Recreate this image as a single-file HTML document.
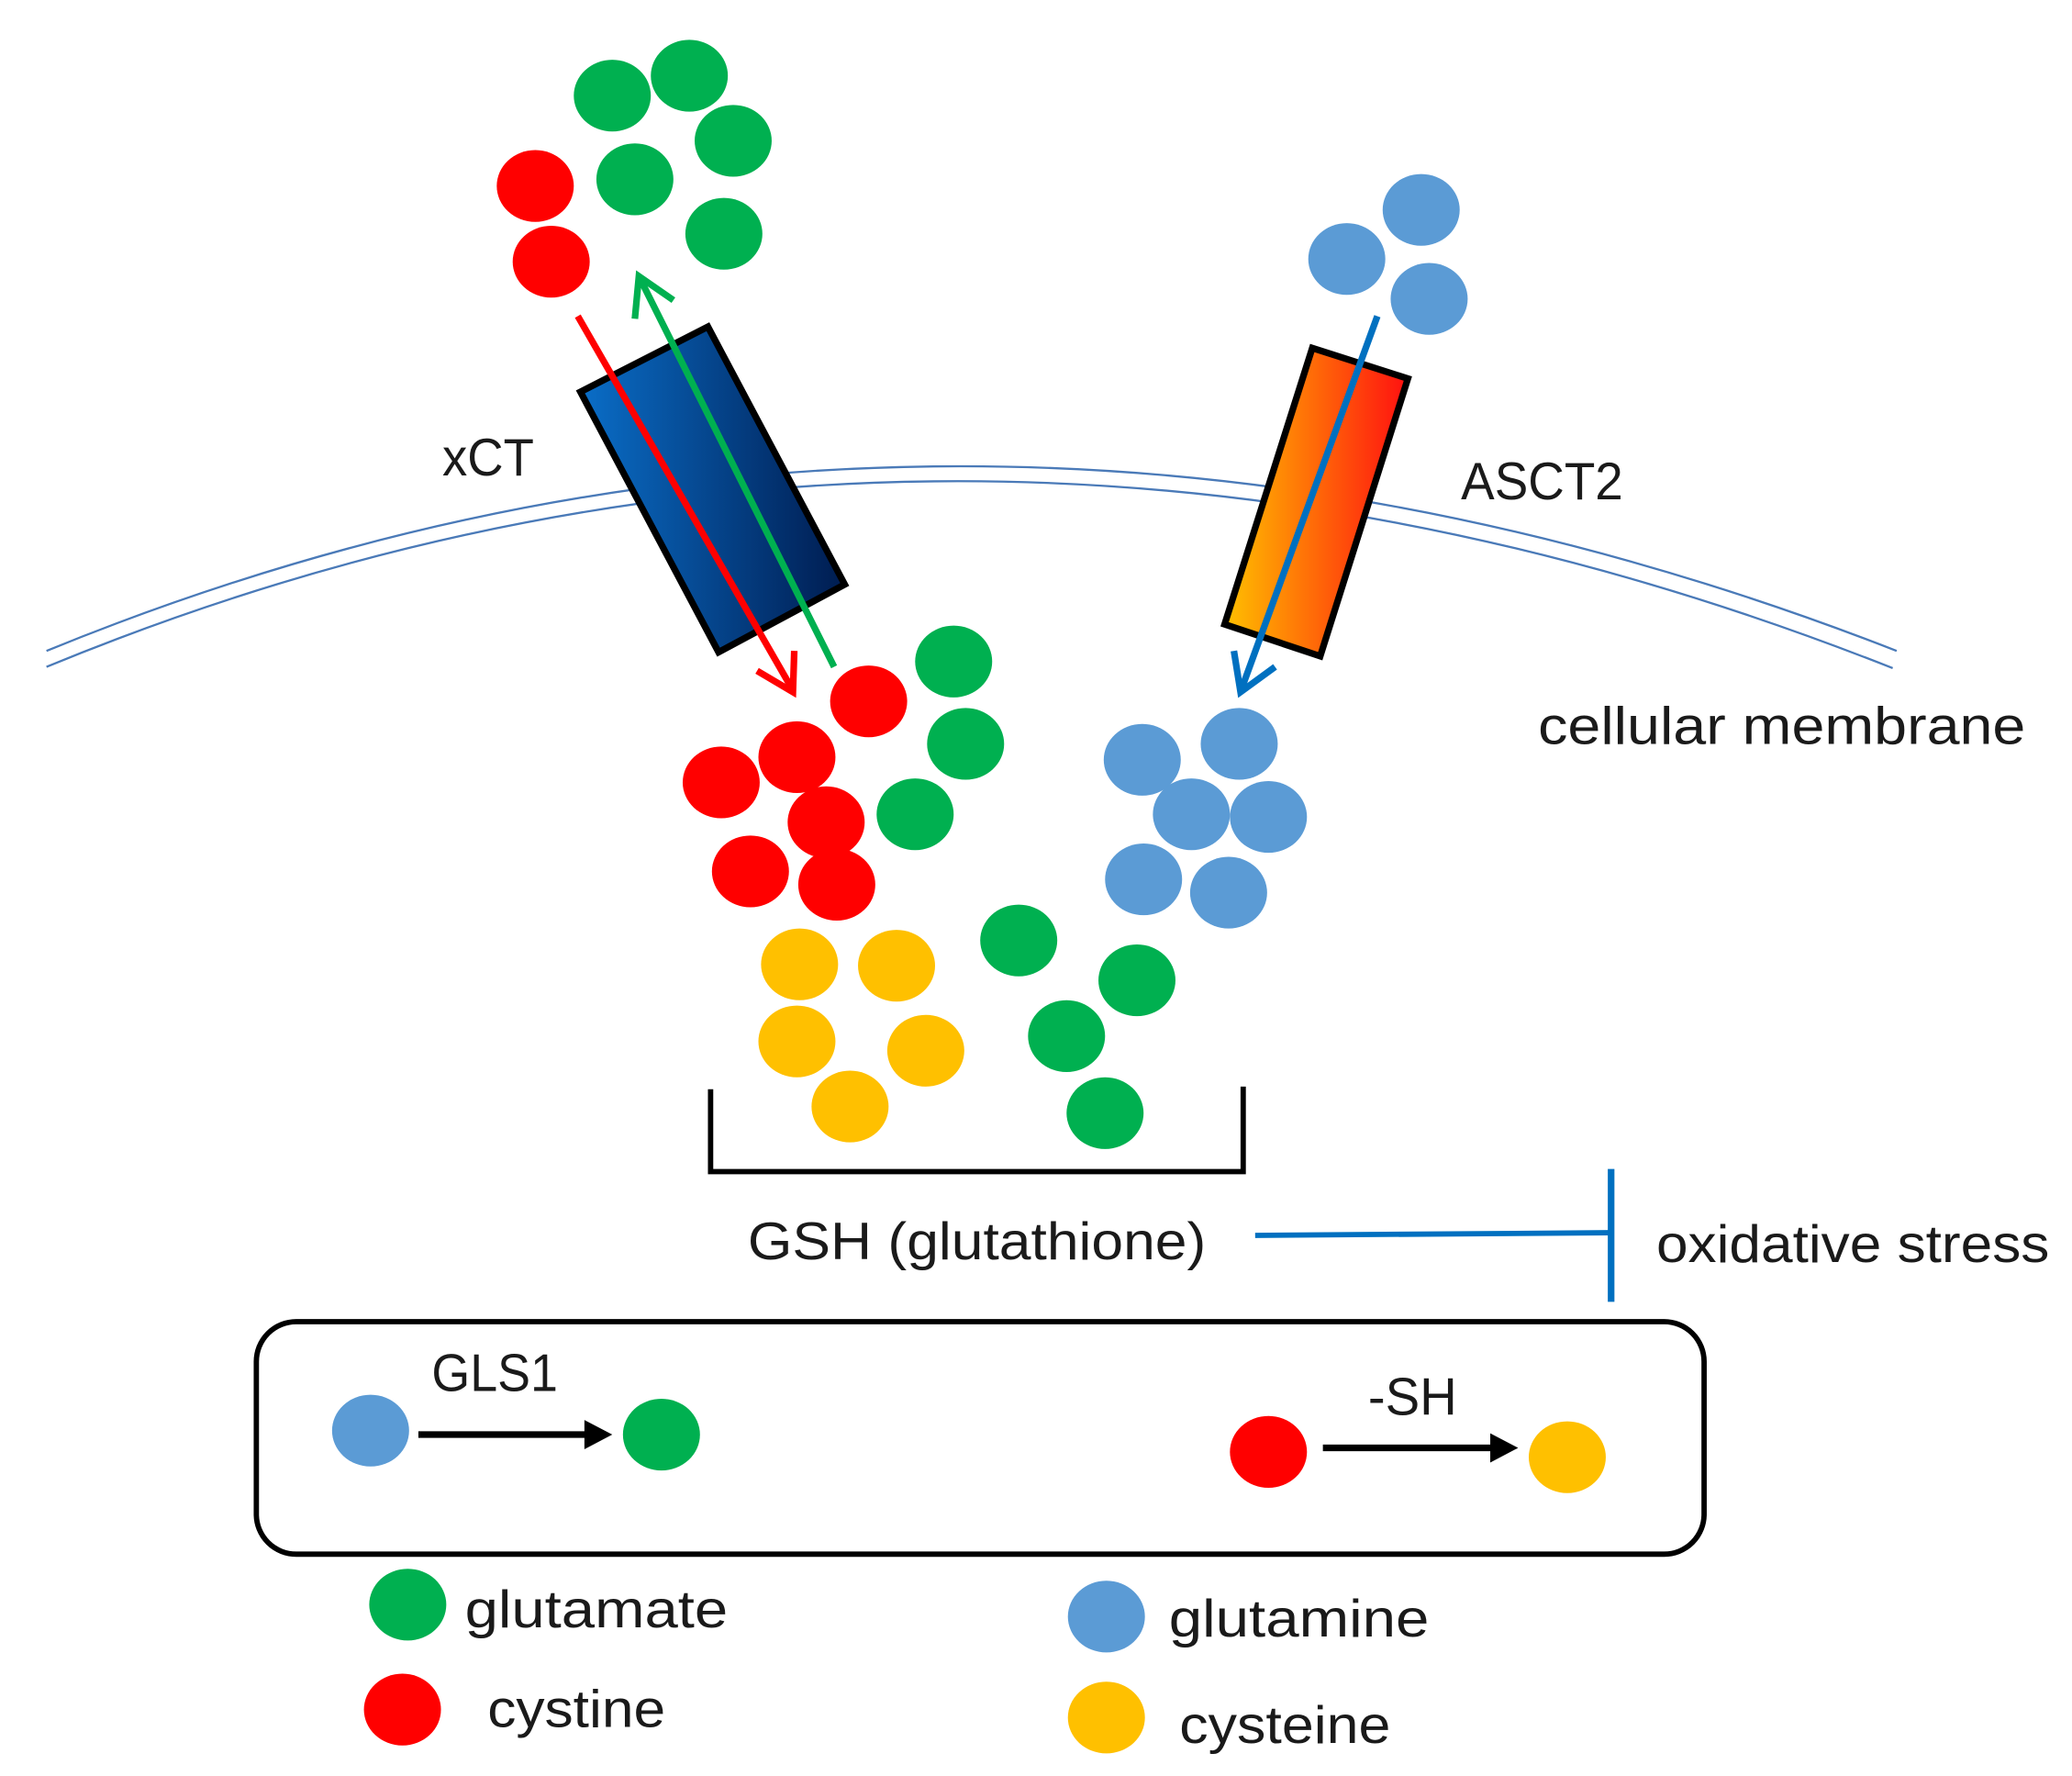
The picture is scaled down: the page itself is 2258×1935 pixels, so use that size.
<!DOCTYPE html>
<html><head><style>html,body{margin:0;padding:0;background:#fff}svg{display:block}</style></head>
<body>
<svg width="2258" height="1935" viewBox="0 0 1560 1337" preserveAspectRatio="none" xmlns="http://www.w3.org/2000/svg" font-family="Liberation Sans, sans-serif" font-size="40">
<defs>
<linearGradient id="gb" x1="0" y1="0" x2="1" y2="0"><stop offset="0" stop-color="#0a6ec8"/><stop offset="1" stop-color="#001c50"/></linearGradient>
<linearGradient id="go" x1="0" y1="0" x2="1" y2="0"><stop offset="0" stop-color="#ffc000"/><stop offset="1" stop-color="#ff1010"/></linearGradient>
</defs>
<path d="M35,490 Q715,212 1428,490" fill="none" stroke="#4a7ab8" stroke-width="1.6"/>
<path d="M35,502 Q715,222 1425,503" fill="none" stroke="#4a7ab8" stroke-width="1.6"/>
<polygon points="437,295 533,246 636,440 541,491" fill="url(#gb)" stroke="#000" stroke-width="5"/>
<polygon points="988,262 1060,285 994,494 922,470" fill="url(#go)" stroke="#000" stroke-width="5"/>
<g stroke-width="5" fill="none">
<line x1="435" y1="238" x2="596" y2="518" stroke="#ff0000"/><polyline points="570,505 597,521 598,490" stroke="#ff0000"/>
<line x1="628" y1="502" x2="482" y2="210" stroke="#00b050"/><polyline points="478,240 481,208 507,226" stroke="#00b050"/>
<line x1="1037" y1="238" x2="935" y2="518" stroke="#0070c0"/><polyline points="929,490 934,521 960,502" stroke="#0070c0"/>
</g>
<g fill="#00b050">
<ellipse cx="461" cy="72" rx="29" ry="27"/><ellipse cx="519" cy="57" rx="29" ry="27"/><ellipse cx="552" cy="106" rx="29" ry="27"/><ellipse cx="478" cy="135" rx="29" ry="27"/><ellipse cx="545" cy="176" rx="29" ry="27"/>
<ellipse cx="718" cy="498" rx="29" ry="27"/><ellipse cx="727" cy="560" rx="29" ry="27"/><ellipse cx="689" cy="613" rx="29" ry="27"/>
<ellipse cx="767" cy="708" rx="29" ry="27"/><ellipse cx="856" cy="738" rx="29" ry="27"/><ellipse cx="803" cy="780" rx="29" ry="27"/><ellipse cx="832" cy="838" rx="29" ry="27"/>
<ellipse cx="498" cy="1080" rx="29" ry="27"/><ellipse cx="307" cy="1208" rx="29" ry="27"/>
</g>
<g fill="#ff0000">
<ellipse cx="403" cy="140" rx="29" ry="27"/><ellipse cx="415" cy="197" rx="29" ry="27"/>
<ellipse cx="654" cy="528" rx="29" ry="27"/><ellipse cx="600" cy="570" rx="29" ry="27"/><ellipse cx="543" cy="589" rx="29" ry="27"/><ellipse cx="622" cy="619" rx="29" ry="27"/><ellipse cx="565" cy="656" rx="29" ry="27"/><ellipse cx="630" cy="666" rx="29" ry="27"/>
<ellipse cx="955" cy="1093" rx="29" ry="27"/><ellipse cx="303" cy="1287" rx="29" ry="27"/>
</g>
<g fill="#5b9bd5">
<ellipse cx="1070" cy="158" rx="29" ry="27"/><ellipse cx="1014" cy="195" rx="29" ry="27"/><ellipse cx="1076" cy="225" rx="29" ry="27"/>
<ellipse cx="860" cy="572" rx="29" ry="27"/><ellipse cx="933" cy="560" rx="29" ry="27"/><ellipse cx="897" cy="613" rx="29" ry="27"/><ellipse cx="955" cy="615" rx="29" ry="27"/><ellipse cx="861" cy="662" rx="29" ry="27"/><ellipse cx="925" cy="672" rx="29" ry="27"/>
<ellipse cx="279" cy="1077" rx="29" ry="27"/><ellipse cx="833" cy="1217" rx="29" ry="27"/>
</g>
<g fill="#ffc000">
<ellipse cx="602" cy="726" rx="29" ry="27"/><ellipse cx="675" cy="727" rx="29" ry="27"/><ellipse cx="600" cy="784" rx="29" ry="27"/><ellipse cx="697" cy="791" rx="29" ry="27"/><ellipse cx="640" cy="833" rx="29" ry="27"/>
<ellipse cx="1180" cy="1097" rx="29" ry="27"/><ellipse cx="833" cy="1293" rx="29" ry="27"/>
</g>
<polyline points="535,820 535,882 936,882 936,818" fill="none" stroke="#000" stroke-width="4"/>
<line x1="945" y1="930" x2="1213" y2="928" stroke="#0070c0" stroke-width="4"/>
<line x1="1213" y1="880" x2="1213" y2="980" stroke="#0070c0" stroke-width="5"/>
<rect x="193" y="995" width="1090" height="175" rx="30" fill="none" stroke="#000" stroke-width="4"/>
<line x1="315" y1="1080" x2="442" y2="1080" stroke="#000" stroke-width="5"/><polygon points="440,1069 461,1080 440,1091" fill="#000"/>
<line x1="996" y1="1090" x2="1124" y2="1090" stroke="#000" stroke-width="5"/><polygon points="1122,1079 1143,1090 1122,1101" fill="#000"/>
<g fill="#1a1a1a" lengthAdjust="spacingAndGlyphs">
<text x="333" y="358" textLength="69" lengthAdjust="spacingAndGlyphs">xCT</text>
<text x="1100" y="376" textLength="122" lengthAdjust="spacingAndGlyphs">ASCT2</text>
<text x="1158" y="560" textLength="367" lengthAdjust="spacingAndGlyphs">cellular membrane</text>
<text x="563" y="948" textLength="345" lengthAdjust="spacingAndGlyphs">GSH (glutathione)</text>
<text x="1247" y="950" textLength="296" lengthAdjust="spacingAndGlyphs">oxidative stress</text>
<text x="325" y="1047" textLength="95" lengthAdjust="spacingAndGlyphs">GLS1</text>
<text x="1030" y="1065" textLength="67" lengthAdjust="spacingAndGlyphs">-SH</text>
<text x="350" y="1225" textLength="198" lengthAdjust="spacingAndGlyphs">glutamate</text>
<text x="367" y="1300" textLength="134" lengthAdjust="spacingAndGlyphs">cystine</text>
<text x="880" y="1232" textLength="196" lengthAdjust="spacingAndGlyphs">glutamine</text>
<text x="888" y="1312" textLength="159" lengthAdjust="spacingAndGlyphs">cysteine</text>
</g>
</svg>
</body></html>
